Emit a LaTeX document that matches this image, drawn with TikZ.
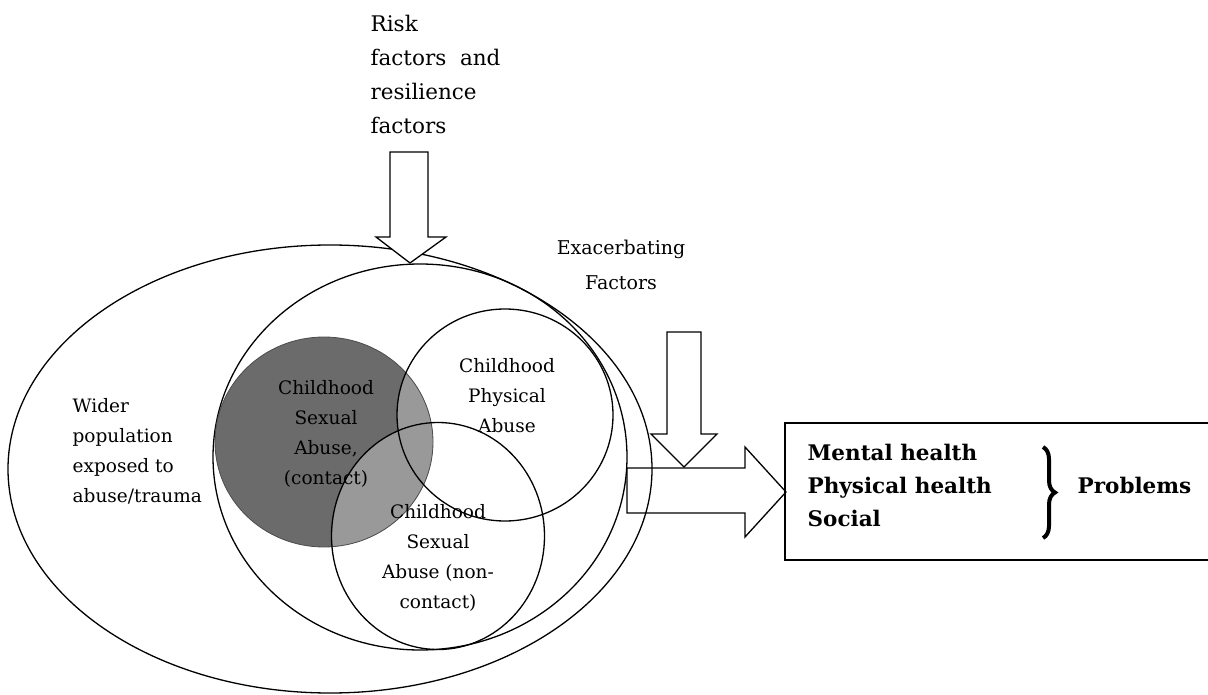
\documentclass[tikz,border=0pt]{standalone}
\usepackage{fontspec}
\setmainfont{DejaVu Serif}
\usetikzlibrary{decorations.pathreplacing}
\definecolor{darkfill}{gray}{0.42}
\definecolor{lightfill}{gray}{0.6}
\begin{document}
\begin{tikzpicture}[x=1pt,y=-1pt,line width=1.3pt,
  lbl/.style={font=\fontsize{18.5}{30}\selectfont, align=center, inner sep=0pt},
  boxtxt/.style={font=\bfseries\fontsize{21.5}{33}\selectfont, align=left, inner sep=0pt},
  blockarrow/.style={draw, line join=miter}]
\useasboundingbox (0,0) rectangle (1208,695);
\clip (0,0) rectangle (1208,695);

% population ellipses
\draw (330,469) ellipse [x radius=322, y radius=224];
\draw (420,457) ellipse [x radius=207, y radius=193];

% contact abuse (shaded)
\fill[darkfill] (324,442) ellipse [x radius=109, y radius=105];
\begin{scope}
  \clip (324,442) ellipse [x radius=109, y radius=105];
  \fill[lightfill] (505,415) ellipse [x radius=108, y radius=106];
  \fill[lightfill] (438,536) ellipse [x radius=106.5, y radius=113.5];
\end{scope}
\draw[line width=0.8pt, black!70] (324,442) ellipse [x radius=109, y radius=105];

% physical and non-contact circles
\draw (505,415) ellipse [x radius=108, y radius=106];
\draw (438,536) ellipse [x radius=106.5, y radius=113.5];

% texts
\node[lbl, anchor=west, align=left] (wider) at (72,451) {Wider\\population\\exposed to\\abuse/trauma};
\node[lbl] (csac) at (326,434) {Childhood\\Sexual\\Abuse,\\(contact)};
\node[lbl] (cpa) at (507,396) {Childhood\\Physical\\Abuse};
\node[lbl] (csanc) at (438,558) {Childhood\\Sexual\\Abuse (non-\\contact)};
\node[lbl, anchor=west, align=left, font=\fontsize{21.5}{34}\selectfont] (risk) at (370,74) {Risk\\factors \ and\\resilience\\factors};
\node[lbl, font=\fontsize{19}{35}\selectfont] (exac) at (621,265) {Exacerbating\\Factors};

% block arrows
\draw[blockarrow, fill=white] (390,152) -- (428,152) -- (428,237) -- (446,237) -- (410,263)
  -- (376,237) -- (390,237) -- cycle;
\draw[blockarrow] (627,468) -- (745,468) -- (745,447) -- (786,492) -- (745,537)
  -- (745,513) -- (627,513) -- cycle;
\draw[blockarrow, fill=white] (667,332) -- (701,332) -- (701,434) -- (717,434) -- (684,467)
  -- (651,434) -- (667,434) -- cycle;

% outcome box
\draw (1230,423) -- (785,423) -- (785,560) -- (1230,560);
\node[boxtxt, anchor=west] (outc) at (807,485) {Mental health\\Physical health\\Social};
\draw[decorate, decoration={brace, amplitude=12pt}, line width=4pt] (1043,447) -- (1043,538);
\node[boxtxt, anchor=west] (prob) at (1077,485) {Problems};
\end{tikzpicture}
\end{document}
